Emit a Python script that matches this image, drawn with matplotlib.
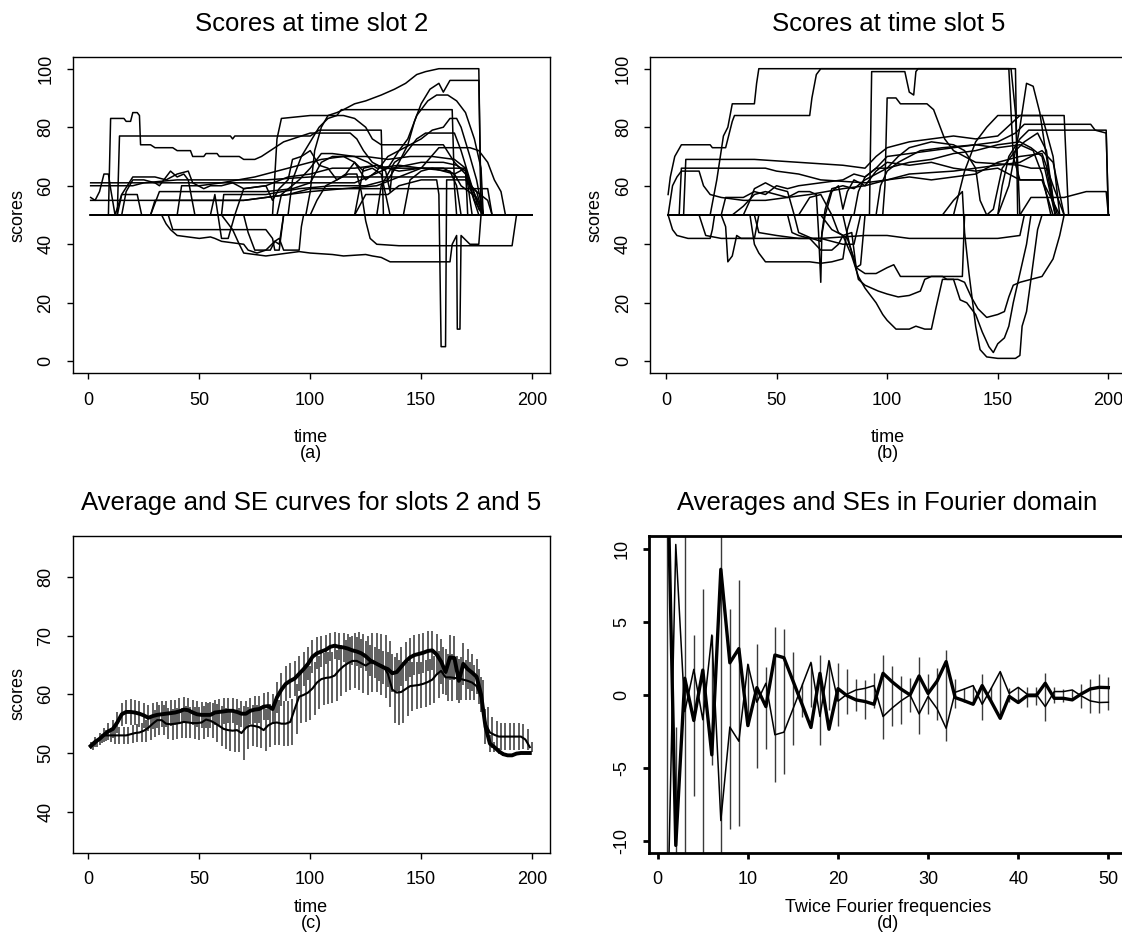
import numpy as np
import matplotlib
matplotlib.use("Agg")
import matplotlib.pyplot as plt

plt.rcParams['font.family'] = ['Liberation Sans', 'DejaVu Sans']
plt.rcParams['axes.unicode_minus'] = False

# ---------------- (a) scores at time slot 2: one (time, score) knot list per user
a01 = [(1,50),(83,50),(85,76),(87,83),(100,84),(108,84),(112,85),(115,86),(120,88),(125,89),(132,91),(138,93),(143,95),(148,98),(152,99),(158,100),(176,100),(177,50),(200,50)]
a02 = [(1,50),(9,50),(10,83),(16,83),(17,82),(19,82),(20,85),(22,85),(23,84),(23.5,74),(28,74),(30,73),(38,73),(40,72),(46,72),(47,70),(52,70),(53,71),(58,71),(59,70),(68,70),(70,69),(75,69),(78,70),(82,72),(86,74),(88,75),(92,76),(96,77),(100,78),(118,78),(121,76),(124,72),(128,68),(133,66),(170,66),(171,50),(200,50)]
a03 = [(1,50),(13,50),(14,77),(64,77),(65,76),(66,77),(100,77),(104,79),(132,79),(133,50),(200,50)]
a04 = [(1,50),(90,50),(92,62),(96,70),(100,75),(104,80),(108,83),(112,84),(114,86),(164,86),(165,60),(166,50),(200,50)]
a05 = [(1,50),(60,50),(65,45),(68,40),(70,37),(75,36.5),(80,36),(85,36.5),(90,37),(95,37.5),(100,37),(110,36.5),(115,36),(125,36.5),(128,36),(132,35.5),(136,34),(163,34),(164,40),(166,43),(166.3,11),(167.5,11),(168,43),(172,40),(176,40),(177,50),(200,50)]
a06 = [(1,50),(100,50),(103,55),(107,60),(112,62),(117,64),(121,64),(123,58),(125,48),(127,42),(130,40),(140,39.5),(191,39.5),(193,50),(200,50)]
a07 = [(1,50),(120,50),(125,57),(135,57),(140,60),(150,62),(157,62),(158,57),(159,5),(161,5),(161.5,62),(170,62),(175,58),(178,50),(200,50)]
a08 = [(1,50),(60,50),(61,57),(80,57),(95,59),(110,60),(125,60),(135,62),(140,68),(144,74),(147,82),(150,88),(154,93),(158,95),(160,92),(163,96),(176,96),(177,55),(178,50),(200,50)]
a09 = [(1,61),(40,61),(80,61),(120,61),(135,66),(140,72),(144,76),(148,84),(153,89),(157,91),(162,91),(166,89),(170,85),(174,76),(177,66),(178,50),(200,50)]
a10 = [(1,55),(30,55),(70,55),(100,58),(130,60),(150,66),(158,73),(172,73),(176,72),(180,68),(183,62),(186,58),(188,50),(200,50)]
a11 = [(1,50),(33,50),(35,47),(37,45),(40,43),(45,42.5),(50,42),(55,42.5),(57,42),(60,41),(70,40),(72,38),(76,37),(80,38),(84,41),(86,40),(88,50),(200,50)]
a12 = [(1,50),(36,50),(38,45),(60,45),(75,45),(80,45),(83,42),(84,38),(86,38),(88,50),(200,50)]
a13 = [(1,50),(70,50),(72,44),(75,38),(82,38),(84,41),(86,42),(88,38),(95,38),(96,46),(97,50),(200,50)]
a14 = [(1,56),(3,55),(5,58),(7,64),(9,64),(10,59),(12,50),(15,57),(20,63),(30,63),(35,62),(40,64),(45,65),(47,61),(52,59),(55,60),(60,60),(65,61),(70,59),(80,60),(90,63),(100,64),(110,66),(120,66),(130,67),(140,65),(150,66),(160,66),(165,64),(168,60),(175,56),(178,50),(200,50)]
a15 = [(1,60),(20,60),(25,61),(40,62),(60,62),(80,62),(100,63),(120,63),(150,63),(170,63),(172,60),(175,58),(180,55),(182,50),(200,50)]
a16 = [(1,50),(15,50),(17,58),(20,62),(25,62),(30,61),(32,60),(35,63),(37,65),(40,63),(43,64),(45,62),(48,50),(55,50),(57,57),(60,42),(63,42),(66,50),(70,59),(80,60),(83,55),(86,59),(90,62),(92,69),(96,70),(100,72),(104,67),(108,66),(112,62),(116,64),(120,68),(124,65),(128,66),(132,64),(136,50),(142,50),(145,62),(150,65),(155,66),(160,65),(165,64),(170,66),(174,55),(178,50),(200,50)]
a17 = [(1,50),(28,50),(30,55),(50,55),(70,55),(90,57),(100,59),(180,59),(182,50),(200,50)]
a18 = [(1,50),(13,50),(15,57),(22,57),(24,50),(28,50),(32,58),(80,58),(92,59),(100,61),(105,68),(110,70),(115,70),(120,68),(125,62),(130,65),(135,70),(140,72),(145,74),(150,76),(155,79),(160,80),(163,83),(166,83),(168,80),(172,70),(175,62),(178,50),(200,50)]
a19 = [(1,50),(98,50),(100,58),(102,72),(105,80),(108,84),(115,84),(120,83),(125,80),(128,76),(132,74),(160,74),(165,68),(170,64),(176,50),(200,50)]
a20 = [(1,50),(120,50),(124,66),(130,67),(134,65),(136,58),(137,66),(150,68),(160,68),(166,67),(170,65),(178,50),(200,50)]
a21 = [(1,50),(40,50),(42,60),(50,60),(60,61),(75,63),(85,65),(95,67),(105,69),(115,70),(125,70),(135,69),(145,70),(155,70),(165,69),(170,66),(173,50),(200,50)]
a22 = [(1,50),(85,50),(87,57),(95,62),(100,66),(105,71),(110,71),(120,70),(126,68),(130,66),(140,67),(150,66),(163,65),(166,60),(168,50),(200,50)]
a23 = [(1,50),(130,50),(132,60),(138,68),(142,70),(148,76),(152,78),(165,78),(168,72),(172,62),(176,52),(178,50),(200,50)]
a24 = [(1,50),(200,50)]
slot2_users = [a01, a02, a03, a04, a05, a06, a07, a08, a09, a10, a11, a12,
               a13, a14, a15, a16, a17, a18, a19, a20, a21, a22, a23, a24]

# ---------------- (b) scores at time slot 5
b01 = [(1,57),(2,63),(4,70),(7,74),(20,74),(21,73),(27,73),(28,76),(30,82),(31,84),(65,84),(66,90),(68,98),(70,100),(156,100),(158,85),(160,50),(200,50)]
b02 = [(1,50),(20,50),(23,62),(26,77),(28,80),(30,88),(40,88),(41,95),(42,100),(158,100),(159,50),(200,50)]
b03 = [(1,50),(92,50),(93,99),(108,99),(110,92),(112,91),(113,99),(114,100),(155,100),(157,70),(160,62),(170,62),(175,50),(200,50)]
b04 = [(1,50),(98,50),(99,60),(100,90),(104,90),(106,88),(118,88),(121,86),(124,80),(126,76),(130,72),(135,70),(140,68),(160,67),(165,66),(172,66),(176,50),(200,50)]
b05 = [(1,50),(30,50),(35,53),(40,57),(45,58),(50,57),(55,56),(60,58),(65,58),(68,57),(69,44),(70,27),(70.5,44),(72,52),(75,59),(80,60),(85,59),(90,62),(100,66),(110,68),(120,69),(130,71),(140,72),(150,74),(160,75),(165,73),(170,70),(176,50),(200,50)]
b06 = [(1,50),(60,50),(65,56),(70,57),(75,50),(78,44),(82,42),(85,35),(87,28),(90,26),(93,25),(96,24),(100,23),(105,22),(110,22.5),(115,24),(117,28),(120,29),(125,29),(127,28),(132,28),(135,27),(138,22),(141,18),(145,15),(150,16),(153,17),(155,22),(157,26),(160,27),(170,29),(175,35),(178,43),(180,50),(200,50)]
b07 = [(1,50),(70,50),(75,45),(80,43),(84,36),(87,29),(90,25),(95,20),(98,16),(100,14),(104,11),(110,11),(113,12),(117,11),(120,11),(122,18),(125,28),(130,28),(133,21),(136,20),(140,16),(143,10),(146,5),(148,3),(150,6),(153,8),(155,12),(157,20),(160,30),(163,40),(165,50),(200,50)]
b08 = [(1,50),(125,50),(130,55),(134,58),(135,44),(137,30),(140,12),(142,4),(145,1.5),(150,1),(158,1),(160,2),(161,12),(163,17),(165,28),(168,45),(170,50),(200,50)]
b09 = [(1,50),(80,50),(83,40),(86,32),(90,30),(95,30),(100,32),(103,33),(106,29),(134,29),(135,50),(200,50)]
b10 = [(1,50),(38,50),(40,40),(42,37),(45,34),(65,34),(70,33.5),(75,34),(80,35),(82,45),(84,50),(200,50)]
b11 = [(1,50),(15,50),(18,43),(25,42),(70,42),(90,43),(100,43),(110,42),(150,42),(160,43),(162,50),(200,50)]
b12 = [(1,50),(3,60),(5,63),(7,65),(15,65),(17,60),(20,57),(25,56),(35,55),(45,55),(55,56),(65,57),(80,59),(90,60),(100,62),(110,64),(130,65),(150,67),(160,68),(170,72),(175,68),(180,50),(200,50)]
b13 = [(1,50),(8,50),(9,69),(40,69),(60,68),(80,67),(90,66),(95,70),(100,73),(110,75),(120,76),(130,77),(140,76),(150,77),(160,84),(170,84),(175,70),(178,50),(200,50)]
b14 = [(1,50),(6,50),(7,66),(45,66),(50,65),(60,64),(70,62),(90,61),(100,62),(110,63),(120,62),(140,64),(150,68),(160,70),(170,71),(175,60),(180,50),(200,50)]
b15 = [(1,50),(3,45),(5,43),(10,42),(20,42),(21,45),(22,50),(25,50),(27,46),(28,34),(30,36),(32,43),(34,42),(40,42),(42,50),(200,50)]
b16 = [(1,50),(95,50),(97,60),(100,65),(105,68),(110,70),(115,72),(125,73),(140,74),(150,75),(158,78),(162,81),(192,81),(194,79),(199,78),(200,50)]
b17 = [(1,50),(150,50),(152,60),(155,70),(160,76),(164,79),(199,79),(200,50)]
b18 = [(1,50),(160,50),(165,56),(180,56),(185,57),(190,58),(199,58),(200,50)]
b19 = [(1,50),(130,50),(135,65),(140,75),(145,80),(150,84),(180,84),(182,50),(200,50)]
b20 = [(1,50),(25,50),(27,56),(35,56),(40,58),(45,57),(50,60),(55,59),(60,60),(70,61),(80,62),(85,64),(90,63),(95,66),(100,66),(105,70),(110,73),(120,75),(130,74),(135,72),(140,66),(142,55),(145,50),(148,52),(152,66),(158,72),(162,75),(168,78),(172,72),(176,50),(200,50)]
b21 = [(1,50),(150,50),(155,60),(160,80),(163,95),(166,94),(169,85),(172,70),(175,55),(177,50),(200,50)]
b22 = [(1,50),(35,50),(38,55),(40,59),(45,61),(50,59),(55,58),(58,50),(60,44),(63,43),(66,42),(70,41),(72,50),(75,58),(78,60),(80,52),(82,58),(85,62),(90,60),(95,65),(100,68),(110,67),(120,68),(130,66),(140,65),(150,66),(160,62),(170,62),(178,50),(200,50)]
b23 = [(1,50),(55,50),(57,44),(60,43),(65,42),(70,38),(75,38),(78,40),(80,43),(84,44),(86,32),(88,33),(90,50),(200,50)]
b24 = [(1,50),(85,50),(87,58),(90,63),(95,66),(100,70),(110,71),(120,72),(130,73),(140,74),(150,73),(160,74),(166,72),(170,64),(174,50),(200,50)]
b25 = [(1,50),(40,50),(42,44),(50,43),(60,42),(70,42),(75,41),(80,40),(85,40),(88,50),(200,50)]
b26 = [(1,50),(200,50)]
slot5_users = [b01, b02, b03, b04, b05, b06, b07, b08, b09, b10, b11, b12, b13,
               b14, b15, b16, b17, b18, b19, b20, b21, b22, b23, b24, b25, b26]

# ---------------- (c) average and SE curves, read at t = 1, 3, ..., 199
t_avg = np.arange(1, 201, 2)
avg_slot2 = [51.2, 51.9, 52.4, 53.1, 53.7, 54.1, 55.2, 56.6, 57.0, 57.0,
             56.9, 56.7, 56.4, 56.0, 56.3, 56.5, 56.6, 56.7, 56.8, 56.9,
             57.1, 57.4, 57.3, 56.9, 56.6, 56.5, 56.5, 56.5, 56.9, 57.0,
             57.1, 57.2, 57.2, 57.0, 56.7, 56.7, 57.2, 57.4, 57.5, 57.9,
             58.0, 57.5, 59.5, 60.8, 61.8, 62.3, 62.7, 63.5, 64.3, 65.2,
             66.4, 67.0, 67.3, 67.6, 68.1, 68.3, 68.1, 68.0, 67.8, 67.5,
             67.3, 67.0, 66.5, 65.8, 65.4, 65.0, 64.6, 64.3, 63.6, 63.8,
             64.7, 65.6, 66.3, 66.7, 66.9, 67.1, 67.4, 67.5, 66.8, 65.6,
             63.8, 66.3, 66.2, 62.3, 65.2, 64.3, 63.7, 63.0, 60.0, 54.5,
             51.6, 51.0, 50.3, 49.8, 49.6, 49.6, 49.9, 50.0, 50.0, 50.0]
avg_slot5 = [51.0, 51.6, 52.5, 53.0, 53.0, 53.0, 53.0, 53.0, 53.0, 53.2,
             53.4, 53.5, 53.8, 54.3, 55.0, 55.6, 55.6, 55.0, 54.9, 55.0,
             55.1, 55.3, 55.2, 55.1, 55.1, 55.2, 55.7, 55.5, 55.1, 54.6,
             54.1, 53.9, 53.8, 53.9, 53.4, 54.3, 54.7, 54.6, 54.4, 53.9,
             54.7, 55.1, 55.2, 55.0, 55.0, 55.3, 57.5, 59.6, 59.9, 60.3,
             61.0, 62.0, 62.6, 62.8, 62.9, 63.2, 64.1, 64.8, 65.3, 65.7,
             65.7, 65.3, 64.9, 65.4, 65.4, 65.1, 64.8, 63.5, 60.8, 60.3,
             60.4, 60.9, 61.4, 61.5, 61.6, 61.8, 62.1, 62.5, 63.4, 64.0,
             62.9, 62.9, 62.8, 62.7, 62.5, 62.3, 62.0, 61.4, 59.5, 55.0,
             53.5, 53.1, 52.8, 52.8, 52.8, 52.8, 52.8, 52.8, 52.3, 51.0]
se_slot2 = [0.6, 0.8, 1.0, 1.2, 1.4, 1.6, 1.8, 2.0, 2.1, 2.2,
            2.2, 2.2, 2.2, 2.2, 2.2, 2.2, 2.2, 2.2, 2.2, 2.2,
            2.2, 2.1, 2.1, 2.2, 2.2, 2.2, 2.2, 2.2, 2.2, 2.2,
            2.2, 2.1, 2.1, 2.2, 2.2, 2.2, 2.2, 2.3, 2.3, 2.3,
            2.4, 2.5, 2.6, 2.8, 3.0, 3.0, 3.0, 3.0, 2.9, 2.8,
            2.8, 2.7, 2.6, 2.5, 2.4, 2.3, 2.3, 2.4, 2.5, 2.5,
            2.5, 2.5, 2.6, 2.6, 2.6, 2.7, 2.8, 3.0, 3.2, 3.2,
            3.3, 3.3, 3.3, 3.4, 3.4, 3.4, 3.4, 3.3, 3.5, 3.8,
            3.9, 3.8, 3.8, 3.8, 3.6, 3.4, 3.2, 3.0, 3.0, 3.0,
            1.5, 0.8, 0.5, 0.3, 0.3, 0.3, 0.3, 0.2, 0.2, 0.2]
se_slot5 = [0.5, 0.6, 0.8, 1.0, 1.2, 1.4, 1.5, 1.5, 1.5, 1.5,
            1.6, 1.7, 1.9, 2.1, 2.3, 2.5, 2.6, 2.6, 2.6, 2.6,
            2.6, 2.7, 2.7, 2.7, 2.8, 2.8, 2.9, 3.0, 3.2, 3.4,
            3.5, 3.5, 3.6, 3.8, 4.6, 3.6, 3.5, 3.5, 3.6, 3.6,
            3.6, 3.7, 3.8, 3.8, 3.8, 3.9, 4.2, 4.5, 4.6, 4.6,
            4.5, 4.5, 4.5, 4.5, 4.4, 4.3, 4.3, 4.4, 4.5, 4.7,
            4.9, 5.0, 5.0, 5.0, 5.0, 5.2, 5.4, 5.6, 5.6, 5.6,
            5.2, 4.6, 4.2, 4.0, 4.0, 4.0, 4.0, 4.0, 4.0, 4.0,
            4.0, 4.0, 3.8, 3.6, 3.4, 3.2, 3.0, 3.0, 3.0, 2.8,
            2.6, 2.4, 2.3, 2.3, 2.3, 2.3, 2.3, 2.2, 1.8, 0.8]

# ---------------- (d) averages and SEs in the Fourier domain
freq = np.arange(1, 51)
four_slot2 = [18.0, -10.3, 1.14, -1.75, 1.7, -4.1, 8.6, 2.2, 3.17, -2.1,
              0.5, -0.8, 2.73, 2.55, 0.97, -0.62, -2.23, 1.48, -2.35, 0.43,
              -0.05, -0.34, -0.45, -0.64, 1.48, 0.9, 0.4, 0.0, 1.3, 0.1,
              0.95, 2.28, -0.18, -0.4, -0.64, 0.64, -0.45, -1.6, -0.1, -0.52,
              -0.05, -0.05, 0.8, -0.23, -0.23, -0.34, 0.07, 0.41, 0.52, 0.5]
four_slot5 = [-18.0, 10.3, -1.14, 1.75, -1.7, 4.1, -8.6, -2.2, -3.17, 2.1,
              -0.5, 0.8, -2.73, -2.55, -0.97, 0.62, 2.23, -1.48, 2.35, -0.43,
              0.05, 0.34, 0.45, 0.64, -1.48, -0.9, -0.4, 0.0, -1.3, -0.1,
              -0.95, -2.28, 0.18, 0.4, 0.64, -0.64, 0.45, 1.6, 0.1, 0.52,
              0.05, 0.05, -0.8, 0.23, 0.23, 0.34, -0.07, -0.41, -0.52, -0.5]
four_se_hi = [30.0, -2.2, 30.0, 4.1, 7.24, 4.1, 30.0, 5.85, 7.86, 2.1,
              3.46, 1.94, 4.67, 4.49, 2.96, 0.8, 2.2, 2.73, 2.3, 2.16,
              1.78, 1.07, 1.02, 1.53, 2.73, 1.98, 1.3, 1.14, 2.62, 1.41,
              1.82, 3.08, 1.07, 0.45, 0.64, 1.41, 0.57, 1.55, 0.5, 0.57,
              0.57, 0.57, 1.53, 0.57, 0.4, 0.34, 0.75, 1.07, 1.43, 1.2]
four_se_lo = [-30.0, -30.0, -30.0, -6.95, -30.0, -4.8, -30.0, -9.2, -9.0, -2.1,
              -5.0, -3.67, -5.99, -5.42, -3.46, -1.48, -0.8, -3.46, -1.0, -2.16,
              -1.32, -1.07, -1.66, -0.9, -3.0, -2.12, -2.0, -1.2, -2.69, -1.32,
              -1.71, -3.12, -0.87, -0.45, -0.64, -1.7, -0.57, -1.6, -0.5, -0.52,
              -0.8, -0.68, -1.78, -0.57, -0.45, -0.34, -0.87, -1.25, -1.25, -1.03]

W, H = 1122, 941
fig = plt.figure(figsize=(W / 100, H / 100), dpi=100)
LAB = 13
TTL = 18.5


def px_axes(left, right, top, bottom):
    return fig.add_axes([left / W, 1 - bottom / H, (right - left) / W, (bottom - top) / H])


def style(ax, xlim, ylim, xt, yt, lw=1.0):
    ax.set_xlim(xlim)
    ax.set_ylim(ylim)
    ax.set_xticks(xt)
    ax.set_yticks(yt)
    ax.tick_params(direction='out', length=4.3, width=lw, pad=9, labelsize=LAB)
    plt.setp(ax.get_yticklabels(), rotation=90, va='center')
    for s in ax.spines.values():
        s.set_linewidth(lw)


def put(x, y, s, **kw):
    fig.text(x / W, 1 - y / H, s, ha='center', va='center', fontsize=LAB, **kw)


# (a)
ax = px_axes(73, 549.7, 56.7, 373.3)
for user in slot2_users:
    tt, ss = zip(*user)
    ax.plot(tt, ss, color='black', lw=1.1)
style(ax, (-6.96, 207.96), (-4.1, 104.1), range(0, 201, 50), range(0, 101, 20))
ax.set_title('Scores at time slot 2', fontsize=TTL, pad=18.5)
put(311, 437, 'time')
put(311, 453, '(a)')
put(18, 215, 'scores', rotation=90)

# (b)
ax = px_axes(650.5, 1126, 56.7, 373.3)
for user in slot5_users:
    tt, ss = zip(*user)
    ax.plot(tt, ss, color='black', lw=1.1)
style(ax, (-6.96, 207.96), (-4.1, 104.1), range(0, 201, 50), range(0, 101, 20))
ax.set_title('Scores at time slot 5', fontsize=TTL, pad=18.5)
put(888, 437, 'time')
put(888, 453, '(b)')
put(595, 215, 'scores', rotation=90)

# (c)
ax = px_axes(73, 549.7, 536, 852.7)
m2, m5 = np.array(avg_slot2), np.array(avg_slot5)
e2, e5 = np.array(se_slot2), np.array(se_slot5)
ax.vlines(t_avg, m2 - e2, m2 + e2, color='#444444', lw=1.2)
ax.vlines(t_avg + 1, m5 - e5, m5 + e5, color='#444444', lw=1.2)
ax.plot(t_avg, avg_slot5, color='black', lw=1.5)
ax.plot(t_avg, avg_slot2, color='black', lw=2.8)
style(ax, (-6.96, 207.96), (33, 87), range(0, 201, 50), range(40, 81, 10))
ax.set_title('Average and SE curves for slots 2 and 5', fontsize=TTL, pad=18.5)
put(311, 908, 'time')
put(311, 924, '(c)')
put(18, 694, 'scores', rotation=90)

# (d)
ax = px_axes(649.1, 1126, 535.7, 852.7)
ax.vlines(freq, four_se_lo, four_se_hi, color='#3a3a3a', lw=1.0)
ax.plot(freq, four_slot5, color='black', lw=1.1)
ax.plot(freq, four_slot2, color='black', lw=2.4)
style(ax, (-0.96, 51.96), (-10.8, 10.9), range(0, 51, 10), range(-10, 11, 5), lw=2.0)
ax.set_title('Averages and SEs in Fourier domain', fontsize=TTL, pad=18.5)
put(888, 908, 'Twice Fourier frequencies')
put(888, 924, '(d)')

fig.savefig('out.png', dpi=100)
